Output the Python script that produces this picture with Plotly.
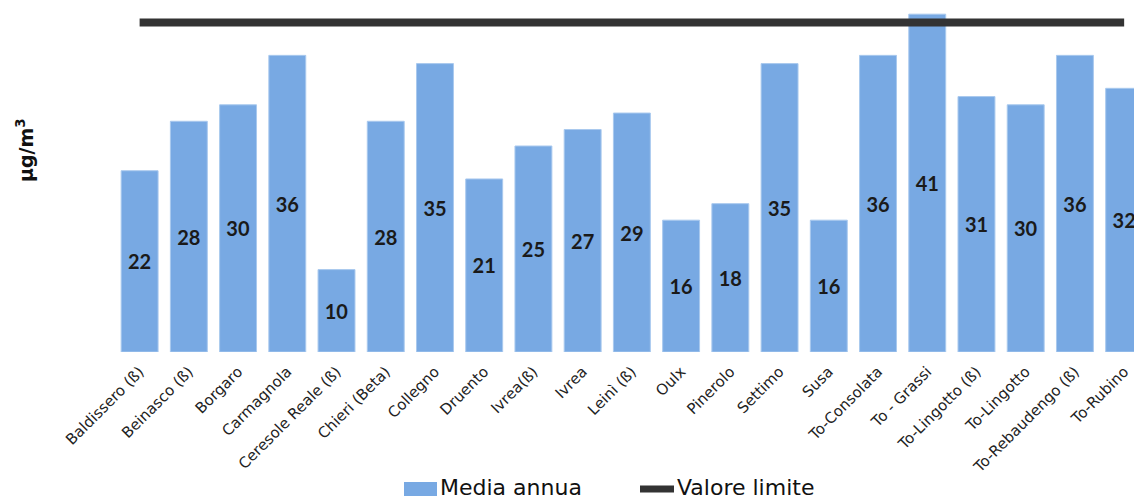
import plotly.graph_objects as go

stations = ["Baldissero (ß)", "Beinasco (ß)", "Borgaro", "Carmagnola", "Ceresole Reale (ß)",
            "Chieri (Beta)", "Collegno", "Druento", "Ivrea(ß)", "Ivrea", "Leinì (ß)", "Oulx",
            "Pinerolo", "Settimo", "Susa", "To-Consolata", "To - Grassi", "To-Lingotto (ß)",
            "To-Lingotto", "To-Rebaudengo (ß)", "To-Rubino"]
media_annua = [22, 28, 30, 36, 10, 28, 35, 21, 25, 27, 29, 16, 18, 35, 16, 36, 41, 31, 30, 36, 32]
valore_limite = [40] * len(stations)

FONT = "DejaVu Sans"
BAR_COLOR = "#78a9e3"
LINE_COLOR = "#333333"

fig = go.Figure()
fig.add_trace(go.Bar(
    x=stations, y=media_annua, name="Media annua",
    marker=dict(color=BAR_COLOR, line=dict(color="#a9c9ee", width=1)),
    text=media_annua, texttemplate="%{text}", textposition="inside",
    insidetextanchor="middle", textangle=0,
    textfont=dict(family="Lato", size=20, color="#1a1a1a", weight="bold"),
    showlegend=False,
))
fig.add_trace(go.Scatter(
    x=stations, y=valore_limite, name="Valore limite", mode="lines",
    line=dict(color=LINE_COLOR, width=8), showlegend=False,
))

W0 = 115.0
PW = 1134 - W0
PH = 352.0

def px(x):
    return (x - W0) / PW

def py(y):
    return (PH - y) / PH

shapes = [
    dict(type="rect", xref="paper", yref="paper", x0=px(404), x1=px(437), y0=py(496), y1=py(482),
         fillcolor=BAR_COLOR, line=dict(width=0)),
    dict(type="line", xref="paper", yref="paper", x0=px(640), x1=px(674), y0=py(489), y1=py(489),
         line=dict(color=LINE_COLOR, width=7)),
]
annotations = [
    dict(text="Media annua", xref="paper", yref="paper", x=px(438), y=py(487), xanchor="left",
         yanchor="middle", showarrow=False, font=dict(family=FONT, size=22, color="#111111")),
    dict(text="Valore limite", xref="paper", yref="paper", x=px(675), y=py(487), xanchor="left",
         yanchor="middle", showarrow=False, font=dict(family=FONT, size=22, color="#111111")),
    dict(text="<b>µg/m<sup>3</sup></b>", xref="paper", yref="paper", x=px(25), y=py(150),
         xanchor="center", yanchor="middle", textangle=-90, showarrow=False,
         font=dict(family=FONT, size=19, color="#111111")),
]

fig.update_layout(
    width=1134, height=498,
    margin=dict(l=115, r=0, t=0, b=146),
    paper_bgcolor="white", plot_bgcolor="white",
    bargap=0.25,
    shapes=shapes, annotations=annotations,
    xaxis=dict(range=[-0.5, 20.2], tickangle=-45, showgrid=False, zeroline=False, showline=False,
               ticks="", ticklabelstandoff=7,
               tickfont=dict(family=FONT, size=15, color="#222222")),
    yaxis=dict(range=[0, PH / 8.24], showgrid=False, zeroline=False, showline=False,
               showticklabels=False, ticks=""),
)

fig.write_html("out.html")
